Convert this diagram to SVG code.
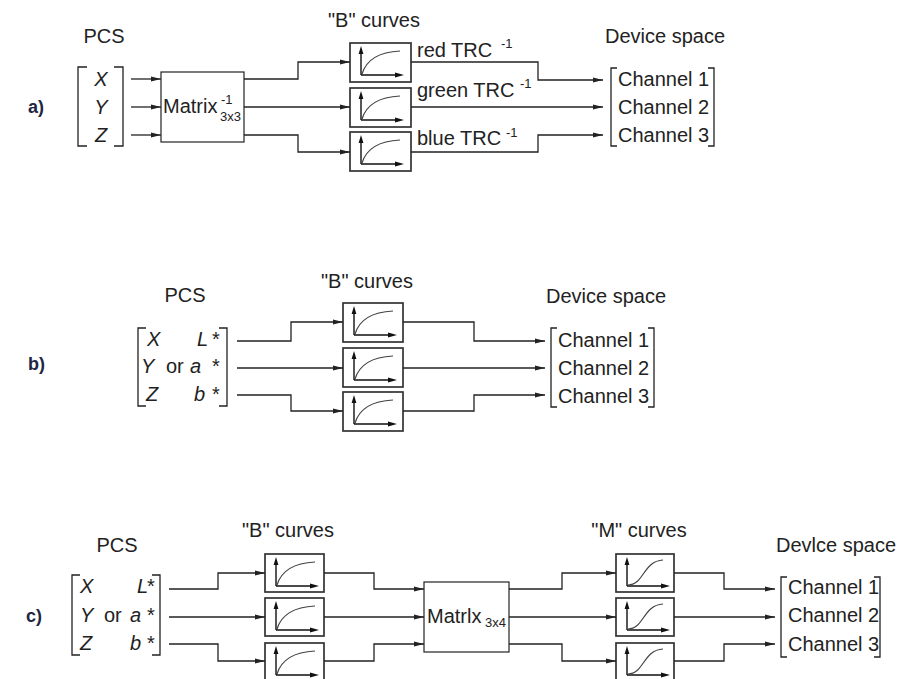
<svg xmlns="http://www.w3.org/2000/svg" xmlns:xlink="http://www.w3.org/1999/xlink" width="901" height="679" viewBox="0 0 901 679">
<style>
.t{font-family:"Liberation Sans",Arial,sans-serif;font-size:20px;fill:#222}
.i{font-style:italic}
.s{font-size:13px}
.lbl{font-family:"Liberation Sans",Arial,sans-serif;font-weight:bold;font-size:18px;fill:#1f2544}
.c{fill:none;stroke:#222;stroke-width:1.3}
.ca{fill:none;stroke:#222;stroke-width:1.3;marker-end:url(#ah)}
.box{fill:#fff;stroke:#333;stroke-width:1.7}
.mbox{fill:#fff;stroke:#222;stroke-width:1.2}
.br{fill:none;stroke:#222;stroke-width:1.3}
</style>
<defs>
<marker id="ah" markerUnits="userSpaceOnUse" markerWidth="10" markerHeight="6" refX="10" refY="3" orient="auto">
<path d="M0,0.5 L10,3 L0,5.5 Z" fill="#222"/>
</marker>
<g id="icB">
<path d="M11,32 V10 M11,32 H46" stroke="#111" stroke-width="1.4" fill="none"/>
<path d="M11,3 L8.6,11 L13.4,11 Z M54,32 L45,29.6 L45,34.4 Z" fill="#111"/>
<path d="M12,31 C16,18 28,9 50,8" stroke="#444" fill="none" stroke-width="1.2"/>
</g>
<g id="icM">
<path d="M11,32 V10 M11,32 H46" stroke="#111" stroke-width="1.4" fill="none"/>
<path d="M11,3 L8.6,11 L13.4,11 Z M54,32 L45,29.6 L45,34.4 Z" fill="#111"/>
<path d="M12,31 C28,31 27,7 47,6" stroke="#444" fill="none" stroke-width="1.2"/>
</g>
</defs>

<!-- Panel a -->
<g id="label-a"><text class="lbl" x="28" y="113">a)</text></g>
<g id="a-pcs">
<text class="t" x="104" y="43" text-anchor="middle">PCS</text>
<path class="br" d="M87,67 H78 V146 H87 M114,67 H123 V146 H114"/>
<text class="t i" x="101" y="86" text-anchor="middle">X</text>
<text class="t i" x="101" y="114" text-anchor="middle">Y</text>
<text class="t i" x="101" y="142" text-anchor="middle">Z</text>
</g>
<g id="a-matrix">
<rect class="mbox" x="161" y="72" width="83" height="70"/>
<text class="t" x="163" y="113">Matrix</text>
<text class="t s" x="221" y="104">-1</text>
<text class="t s" x="220" y="121">3x3</text>
</g>
<g id="a-bcurves-title"><text class="t" x="374" y="27" text-anchor="middle">"B" curves</text></g>
<g id="a-b1"><rect class="box" x="350" y="43" width="61" height="39"/><use href="#icB" x="350" y="43"/></g>
<g id="a-b2"><rect class="box" x="350" y="88" width="61" height="39"/><use href="#icB" x="350" y="88"/></g>
<g id="a-b3"><rect class="box" x="350" y="132" width="61" height="39"/><use href="#icB" x="350" y="132"/></g>
<g id="a-trc">
<text class="t" x="417" y="57">red TRC</text><text class="t s" x="501" y="48">-1</text>
<text class="t" x="417" y="97">green TRC</text><text class="t s" x="520" y="88">-1</text>
<text class="t" x="417" y="145">blue TRC</text><text class="t s" x="506" y="137">-1</text>
</g>
<g id="a-device">
<text class="t" x="605" y="43">Device space</text>
<path class="br" d="M617,68 H611 V146 H617 M708,68 H714 V146 H708"/>
<text class="t" x="618" y="86">Channel 1</text>
<text class="t" x="618" y="114">Channel 2</text>
<text class="t" x="618" y="142">Channel 3</text>
</g>

<!-- Panel b -->
<g id="label-b"><text class="lbl" x="28" y="370">b)</text></g>
<g id="b-pcs">
<text class="t" x="185" y="302" text-anchor="middle">PCS</text>
<path class="br" d="M146,328 H138 V406 H146 M219,328 H227 V406 H219"/>
<text class="t i" x="147" y="346">X</text><text class="t i" x="197" y="346">L</text><text class="t" x="212" y="346">*</text>
<text class="t i" x="141" y="373">Y</text><text class="t" x="166" y="373">or</text><text class="t i" x="190" y="373">a</text><text class="t" x="212" y="373">*</text>
<text class="t i" x="146" y="401">Z</text><text class="t i" x="194" y="401">b</text><text class="t" x="212" y="401">*</text>
</g>
<g id="b-bcurves-title"><text class="t" x="367" y="288" text-anchor="middle">"B" curves</text></g>
<g id="b-b1"><rect class="box" x="343" y="303" width="60" height="39"/><use href="#icB" x="343" y="303"/></g>
<g id="b-b2"><rect class="box" x="343" y="348" width="60" height="39"/><use href="#icB" x="343" y="348"/></g>
<g id="b-b3"><rect class="box" x="343" y="392" width="60" height="39"/><use href="#icB" x="343" y="392"/></g>
<g id="b-device">
<text class="t" x="546" y="303">Device space</text>
<path class="br" d="M557,328 H551 V407 H557 M648,328 H654 V407 H648"/>
<text class="t" x="558" y="347">Channel 1</text>
<text class="t" x="558" y="375">Channel 2</text>
<text class="t" x="558" y="403">Channel 3</text>
</g>

<!-- Panel c -->
<g id="label-c"><text class="lbl" x="26" y="622">c)</text></g>
<g id="c-pcs">
<text class="t" x="117" y="552" text-anchor="middle">PCS</text>
<path class="br" d="M80,575 H72 V655 H80 M152,575 H160 V655 H152"/>
<text class="t i" x="80" y="593">X</text><text class="t i" x="137" y="593">L</text><text class="t" x="147" y="593">*</text>
<text class="t i" x="80" y="622">Y</text><text class="t" x="104" y="622">or</text><text class="t i" x="130" y="622">a</text><text class="t" x="147" y="622">*</text>
<text class="t i" x="80" y="650">Z</text><text class="t i" x="130" y="650">b</text><text class="t" x="147" y="650">*</text>
</g>
<g id="c-bcurves-title"><text class="t" x="288" y="537" text-anchor="middle">"B" curves</text></g>
<g id="c-b1"><rect class="box" x="265" y="554" width="59" height="38"/><use href="#icB" x="265" y="554"/></g>
<g id="c-b2"><rect class="box" x="265" y="598" width="59" height="38"/><use href="#icB" x="265" y="598"/></g>
<g id="c-b3"><rect class="box" x="265" y="643" width="59" height="38"/><use href="#icB" x="265" y="643"/></g>
<g id="c-matrix">
<rect class="mbox" x="424" y="582" width="85" height="70"/>
<text class="t" x="427" y="623">Matrlx</text>
<text class="t s" x="485" y="627">3x4</text>
</g>
<g id="c-mcurves-title"><text class="t" x="639" y="537" text-anchor="middle">"M" curves</text></g>
<g id="c-m1"><rect class="box" x="616" y="554" width="58" height="38"/><use href="#icM" x="616" y="554"/></g>
<g id="c-m2"><rect class="box" x="616" y="598" width="58" height="38"/><use href="#icM" x="616" y="598"/></g>
<g id="c-m3"><rect class="box" x="616" y="643" width="58" height="38"/><use href="#icM" x="616" y="643"/></g>
<g id="c-device">
<text class="t" x="776" y="552">Devlce space</text>
<path class="br" d="M787,577 H781 V657 H787 M874,577 H880 V657 H874"/>
<text class="t" x="788" y="594">Channel 1</text>
<text class="t" x="788" y="622">Channel 2</text>
<text class="t" x="788" y="651">Channel 3</text>
</g>

<g id="connectors">
<!-- a -->
<path class="ca" d="M131,79 H161"/>
<path class="ca" d="M131,107 H161"/>
<path class="ca" d="M131,135 H161"/>
<path class="ca" d="M244,79 H298 V62 H350"/>
<path class="ca" d="M244,107 H350"/>
<path class="ca" d="M244,135 H298 V152 H350"/>
<path class="ca" d="M411,62 H538 V80 H603"/>
<path class="ca" d="M411,107 H603"/>
<path class="ca" d="M411,152 H538 V135 H603"/>
<!-- b -->
<path class="ca" d="M237,341 H291 V322 H343"/>
<path class="ca" d="M237,368 H343"/>
<path class="ca" d="M237,395 H291 V411 H343"/>
<path class="ca" d="M403,322 H474 V341 H545"/>
<path class="ca" d="M403,368 H545"/>
<path class="ca" d="M403,411 H474 V395 H545"/>
<!-- c -->
<path class="ca" d="M169,589 H218 V573 H265"/>
<path class="ca" d="M169,617 H265"/>
<path class="ca" d="M169,644 H218 V661 H265"/>
<path class="ca" d="M324,573 H374 V589 H424"/>
<path class="ca" d="M324,617 H424"/>
<path class="ca" d="M324,661 H374 V644 H424"/>
<path class="ca" d="M509,589 H562 V573 H616"/>
<path class="ca" d="M509,617 H616"/>
<path class="ca" d="M509,644 H562 V661 H616"/>
<path class="ca" d="M674,573 H724 V589 H775"/>
<path class="ca" d="M674,617 H775"/>
<path class="ca" d="M674,661 H724 V644 H775"/>
</g>
</svg>
